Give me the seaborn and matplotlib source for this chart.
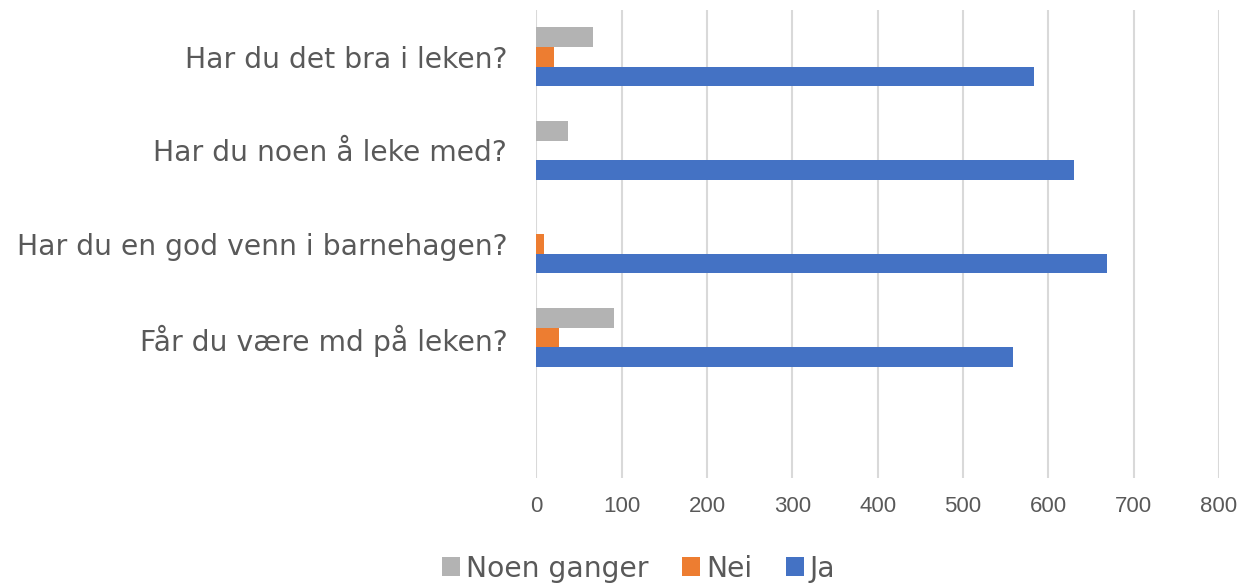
import pandas as pd
import matplotlib.pyplot as plt
import seaborn as sns
from matplotlib.patches import Patch

# Survey answers
questions = [
    "Har du det bra i leken?",
    "Har du noen å leke med?",
    "Har du en god venn i barnehagen?",
    "Får du være md på leken?",
    "",
]
noen_ganger = [66, 37, 0, 91]
nei = [20, 0, 9, 26]
ja = [583, 630, 669, 558]
series = ["Noen ganger", "Nei", "Ja"]
colors = ["#B3B3B3", "#ED7D31", "#4472C4"]
ticks = [0, 100, 200, 300, 400, 500, 600, 700, 800]

rows = []
for q, a, b, c in zip(questions[:4], noen_ganger, nei, ja):
    rows.append({"question": q, "answer": "Noen ganger", "count": a})
    rows.append({"question": q, "answer": "Nei", "count": b})
    rows.append({"question": q, "answer": "Ja", "count": c})
df = pd.DataFrame(rows)

sns.set_theme(style="white")
plt.rcParams["font.family"] = ["DejaVu Sans"]

fig = plt.figure(figsize=(12.43, 5.85), dpi=100)
ax = fig.add_axes([0.4316, 0.183, 0.5491, 0.800])

sns.barplot(data=df, y="question", x="count", hue="answer",
            order=questions, hue_order=series, palette=colors,
            orient="h", width=0.63, saturation=1, legend=False,
            edgecolor="none", linewidth=0, ax=ax)

ax.set_xlim(0, 800)
ax.set_xticks(ticks)
ax.set_xticklabels([str(t) for t in ticks])
for lbl in ax.get_xticklabels():
    lbl.set_fontfamily("Liberation Sans")
    lbl.set_fontsize(16)
    lbl.set_color("#595959")
ax.set_yticks(range(len(questions)))
ax.set_yticklabels(questions, fontsize=20.3, color="#595959")
ax.tick_params(axis="x", length=0, pad=13)
ax.tick_params(axis="y", length=0, pad=21)
ax.set_xlabel("")
ax.set_ylabel("")
ax.set_ylim(4.5, -0.5)
ax.grid(axis="x", color="#D9D9D9", linewidth=1.5)
ax.set_axisbelow(True)
for s in ax.spines.values():
    s.set_visible(False)

handles = [Patch(facecolor=c, edgecolor="none") for c in colors]
fig.legend(handles, series, loc="center", bbox_to_anchor=(0.5137, 0.028),
           ncol=3, frameon=False, fontsize=20.3, labelcolor="#595959",
           handlelength=0.65, handleheight=0.65, handletextpad=0.2,
           columnspacing=1.2)

fig.savefig("out.png", dpi=100)
